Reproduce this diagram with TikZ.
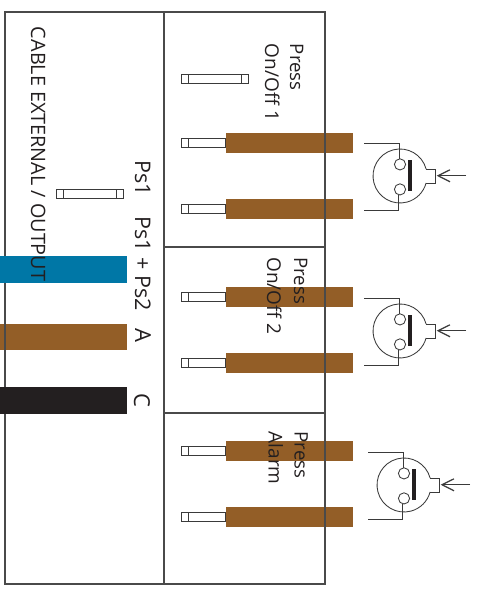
\documentclass[tikz,border=0pt]{standalone}
\usepackage{fontspec}
\setmainfont{Open Sans}
\definecolor{wbrown}{HTML}{935E27}
\definecolor{wblue}{HTML}{0077A6}
\definecolor{wblack}{HTML}{231F20}
\definecolor{frameline}{HTML}{4A4A4A}
\definecolor{inkline}{HTML}{3A3A3A}
\tikzset{
  framepath/.style={draw=frameline,line width=1.1pt},
  wirefill/.style={fill=#1,draw=none},
  termbox/.style={draw=inkline,line width=.8pt,fill=white},
  thinline/.style={draw=inkline,line width=.85pt},
  rottext/.style={rotate=-90,anchor=base west,inner sep=0pt,outer sep=0pt,text=wblack,font=\fontsize{#1}{#1}\selectfont},
}
\newcommand{\lugshort}[1]{%
  \path[wirefill=wbrown] (225.5,#1-10) rectangle (352.5,#1+10);
  \draw[termbox] (181.5,#1-4.5) rectangle (225.5,#1+4.5);
  \draw[thinline] (188.5,#1-4.5) -- (188.5,#1+4.5);
}
\newcommand{\fuselug}[2]{%
  \draw[termbox] (#1,#2-4.6) rectangle (#1+67,#2+4.6);
  \draw[thinline] (#1+7,#2-4.6) -- (#1+7,#2+4.6);
  \draw[thinline] (#1+60,#2-4.6) -- (#1+60,#2+4.6);
}
\newcommand{\plugsym}[2]{%
  \begin{scope}[shift={(#1,#2)}]
    \draw[thinline] (364,143) -- (399,143) -- (399,158.8);
    \draw[thinline] (364,210.7) -- (398.5,210.7) -- (398.5,195);
    \draw[thinline] (426.1,169) arc[start angle=-15,end angle=-345,radius=27];
    \draw[thinline] (426.1,169) -- (435.7,169) -- (435.7,183) -- (426.1,183);
    \draw[thinline] (400,164.4) circle[radius=5.6];
    \draw[thinline] (400,189.4) circle[radius=5.6];
    \path[wirefill=wblack] (408,160) rectangle (412,190.7);
    \draw[inkline,line width=1.2pt] (466,175.7) -- (438,175.7);
    \draw[inkline,line width=1.2pt] (450,169.8) -- (438,175.7) -- (450,181.8);
  \end{scope}
}
\begin{document}
\begin{tikzpicture}[x=1pt,y=-1pt]
\useasboundingbox (0,0) rectangle (477,591);
\path[fill=white] (0,0) rectangle (477,591);

\path[wirefill=wbrown] (0,323.5) rectangle (127,350.3);
\lugshort{143.3}\lugshort{209}
\lugshort{297.3}\lugshort{363}
\lugshort{451.2}\lugshort{517}

\draw[framepath] (5,12) rectangle (325,584);
\draw[framepath] (164,12) -- (164,584);
\draw[framepath] (164,247) -- (325,247);
\draw[framepath] (164,413) -- (325,413);

\path[wirefill=wblue] (0,256) rectangle (127,283);
\path[wirefill=wblack] (0,387) rectangle (127,414);

\fuselug{181.5}{78.7}
\fuselug{56.5}{193.6}

\plugsym{0}{0}
\plugsym{0}{155}
\plugsym{4}{309}

\node[rottext=18.6] (press1) at (290,44) {Press};
\node[rottext=19] (onoff1) at (265,44) {On/Off 1};
\node[rottext=18.6] (press2) at (294,257.3) {Press};
\node[rottext=19] (onoff2) at (267,257.3) {On/Off 2};
\node[rottext=18.6] (press3) at (294.7,431.7) {Press};
\node[rottext=19] (alarm) at (268.7,431.7) {Alarm};
\node[rottext=19.8] (cable) at (31,27) {CABLE EXTERNAL / OUTPUT};
\node[rottext=21.5] (ps1) at (135,160.7) {Ps1};
\node[rottext=21.5] (ps12) at (135,216.7) {Ps1 + Ps2};
\node[rottext=22] (lblA) at (135,328) {A};
\node[rottext=22] (lblC) at (134,393) {C};
\end{tikzpicture}
\end{document}
